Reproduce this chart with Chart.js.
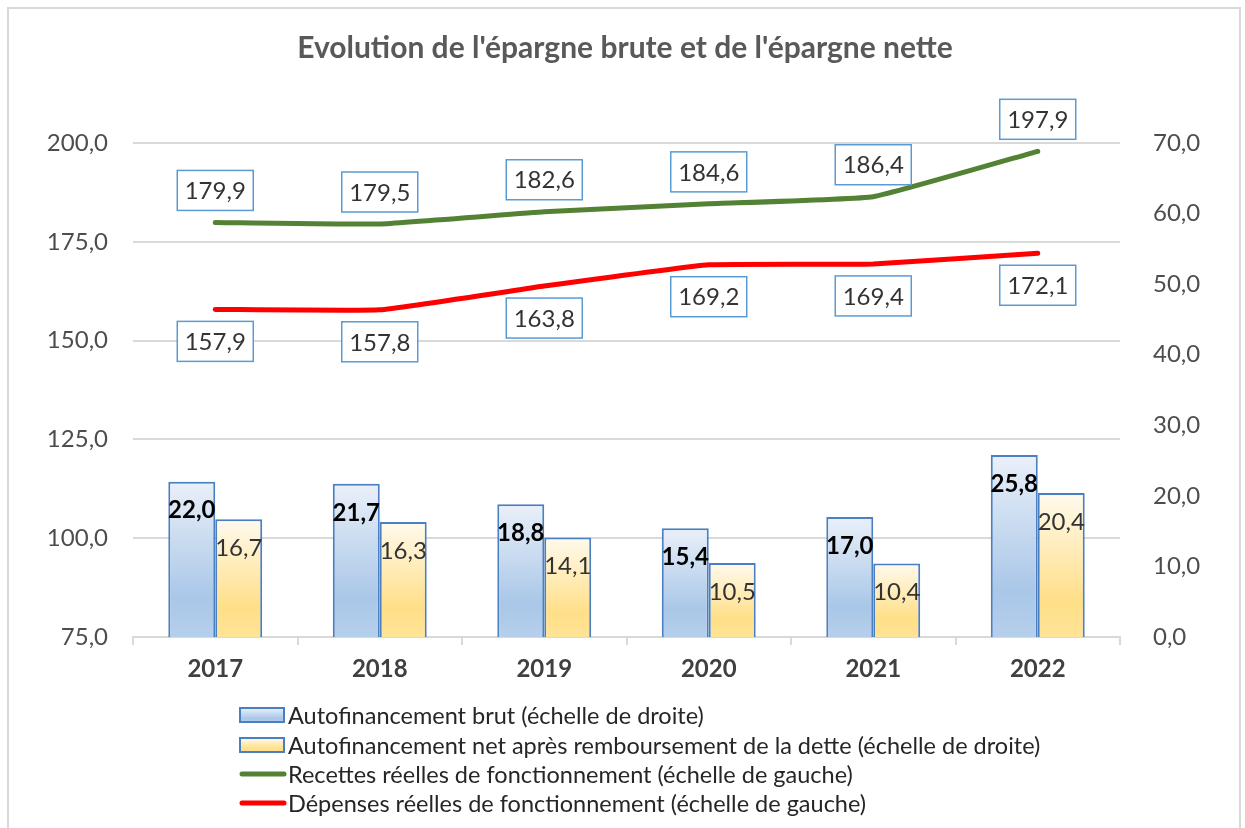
<!DOCTYPE html>
<html lang="fr">
<head>
    <meta charset="UTF-8">
    <title>Evolution de l'épargne</title>
    <style>
        html, body { margin: 0; padding: 0; background: #fff; }
        canvas { display: block; }
    </style>
</head>
<body>
    <canvas id="myChart" width="1245" height="828"></canvas>

    <script src="https://cdn.jsdelivr.net/npm/chart.js"></script>
    <script>
        // donnees
        let annees = ['2017', '2018', '2019', '2020', '2021', '2022'];
        let autofBrut = [22.0, 21.7, 18.8, 15.4, 17.0, 25.8];
        let autofNet = [16.7, 16.3, 14.1, 10.5, 10.4, 20.4];
        let recettes = [179.9, 179.5, 182.6, 184.6, 186.4, 197.9];
        let depenses = [157.9, 157.8, 163.8, 169.2, 169.4, 172.1];

        let gaucheMin = 75, gaucheMax = 200, gauchePas = 25;
        let droiteMin = 0, droiteMax = 70, droitePas = 10;

        let titre = "Evolution de l'épargne brute et de l'épargne nette";
        let police = 'Lato, "Open Sans", sans-serif';

        function fmt(v) {
            return v.toFixed(1).replace('.', ',');
        }

        function degrade(stops) {
            return function (c) {
                let chart = c.chart;
                let ca = chart.chartArea;
                if (!ca || c.type !== 'data') return stops[1][1];
                let top = chart.scales.y2.getPixelForValue(c.raw);
                let g = chart.ctx.createLinearGradient(0, top, 0, ca.bottom);
                stops.forEach(s => g.addColorStop(s[0], s[1]));
                return g;
            };
        }

        let bleuStops = [[0, '#eaf0f9'], [0.75, '#a9c7e8'], [1, '#b6cfeb']];
        let jauneStops = [[0, '#fffaee'], [0.75, '#ffdf88'], [1, '#ffe497']];

        // cadre + titre + etiquettes + legende
        let decor = {
            id: 'decor',
            beforeDraw(chart) {
                let ctx = chart.ctx;
                ctx.save();
                ctx.fillStyle = '#fff';
                ctx.fillRect(0, 0, chart.width, chart.height);
                ctx.strokeStyle = '#d9d9d9';
                ctx.lineWidth = 2;
                ctx.strokeRect(8, 8, 1232, 840);
                ctx.fillStyle = '#595959';
                ctx.font = 'bold 30px ' + police;
                ctx.textAlign = 'center';
                ctx.textBaseline = 'middle';
                ctx.fillText(titre, 625, 48);
                ctx.restore();
            },
            afterDatasetsDraw(chart) {
                let ctx = chart.ctx;
                ctx.save();
                ctx.textAlign = 'center';
                ctx.textBaseline = 'middle';

                // barres
                chart.getDatasetMeta(0).data.forEach((bar, i) => {
                    ctx.font = 'bold 24px ' + police;
                    ctx.fillStyle = '#000';
                    ctx.fillText(fmt(autofBrut[i]), bar.x, bar.y + 29);
                });
                chart.getDatasetMeta(1).data.forEach((bar, i) => {
                    ctx.font = '24px ' + police;
                    ctx.fillStyle = '#333';
                    ctx.fillText(fmt(autofNet[i]), bar.x, bar.y + 29);
                });

                // boites des courbes
                function boite(x, y, txt) {
                    ctx.fillStyle = '#fff';
                    ctx.fillRect(x - 38, y - 20, 76, 40);
                    ctx.strokeStyle = '#5b9bd5';
                    ctx.lineWidth = 1.5;
                    ctx.strokeRect(x - 38, y - 20, 76, 40);
                    ctx.font = '24px ' + police;
                    ctx.fillStyle = '#333';
                    ctx.fillText(txt, x, y + 1);
                }
                chart.getDatasetMeta(2).data.forEach((pt, i) => {
                    boite(pt.x, pt.y - 32, fmt(recettes[i]));
                });
                chart.getDatasetMeta(3).data.forEach((pt, i) => {
                    boite(pt.x, pt.y + 32, fmt(depenses[i]));
                });
                ctx.restore();
            },
            afterDraw(chart) {
                let ctx = chart.ctx;
                ctx.save();
                let x = 240;
                let ys = [715, 745, 774, 803];
                chart.data.datasets.forEach((ds, i) => {
                    let y = ys[i];
                    if (ds.type === 'bar') {
                        let stops = i === 0 ? bleuStops : jauneStops;
                        let g = ctx.createLinearGradient(0, y - 7, 0, y + 7);
                        stops.forEach(s => g.addColorStop(s[0], s[1]));
                        ctx.fillStyle = g;
                        ctx.fillRect(x, y - 7, 44, 14);
                        ctx.strokeStyle = '#4a7fc1';
                        ctx.lineWidth = 2;
                        ctx.strokeRect(x, y - 7, 44, 14);
                    } else {
                        ctx.strokeStyle = ds.borderColor;
                        ctx.lineWidth = 5;
                        ctx.lineCap = 'round';
                        ctx.beginPath();
                        ctx.moveTo(x + 2, y);
                        ctx.lineTo(x + 44, y);
                        ctx.stroke();
                    }
                    ctx.font = '23.5px ' + police;
                    ctx.fillStyle = '#262626';
                    ctx.textAlign = 'left';
                    ctx.textBaseline = 'middle';
                    ctx.fillText(ds.label, x + 48, y + 1);
                });
                ctx.restore();
            }
        };

        let ctx = document.getElementById('myChart');
        let myChart = new Chart(ctx, {
            data: {
                labels: annees,
                datasets: [{
                    type: 'bar',
                    label: 'Autofinancement brut (échelle de droite)',
                    data: autofBrut,
                    yAxisID: 'y2',
                    backgroundColor: degrade(bleuStops),
                    borderColor: '#4a7fc1',
                    borderWidth: 2,
                    order: 2
                }, {
                    type: 'bar',
                    label: 'Autofinancement net après remboursement de la dette (échelle de droite)',
                    data: autofNet,
                    yAxisID: 'y2',
                    backgroundColor: degrade(jauneStops),
                    borderColor: '#4a7fc1',
                    borderWidth: 2,
                    order: 2
                }, {
                    type: 'line',
                    label: 'Recettes réelles de fonctionnement (échelle de gauche)',
                    data: recettes,
                    yAxisID: 'y',
                    borderColor: '#548235',
                    borderWidth: 5,
                    pointRadius: 0,
                    tension: 0.1,
                    borderCapStyle: 'round',
                    fill: false,
                    order: 1
                }, {
                    type: 'line',
                    label: 'Dépenses réelles de fonctionnement (échelle de gauche)',
                    data: depenses,
                    yAxisID: 'y',
                    borderColor: '#ff0000',
                    borderWidth: 5,
                    pointRadius: 0,
                    tension: 0.1,
                    borderCapStyle: 'round',
                    fill: false,
                    order: 1
                }]
            },
            options: {
                responsive: false,
                animation: false,
                layout: {
                    padding: { top: 143, left: 0, right: 0, bottom: 141 }
                },
                datasets: {
                    bar: { categoryPercentage: 0.571, barPercentage: 1 }
                },
                plugins: {
                    legend: { display: false },
                    title: { display: false },
                    tooltip: { enabled: false }
                },
                scales: {
                    x: {
                        offset: true,
                        grid: {
                            offset: true,
                            drawOnChartArea: false,
                            tickLength: 8,
                            color: '#d9d9d9',
                            lineWidth: 2
                        },
                        border: { color: '#d9d9d9', width: 2 },
                        ticks: {
                            color: '#404040',
                            font: { family: police, size: 24, weight: 'bold' },
                            padding: 10
                        },
                        afterFit(scale) { scale.height = 50; }
                    },
                    y: {
                        position: 'left',
                        min: gaucheMin,
                        max: gaucheMax,
                        ticks: {
                            stepSize: gauchePas,
                            callback: v => fmt(v),
                            color: '#4d4d4d',
                            font: { family: police, size: 24 },
                            padding: 25
                        },
                        grid: { color: '#d9d9d9', lineWidth: 2, drawTicks: false },
                        border: { display: false },
                        afterFit(scale) { scale.width = 133; }
                    },
                    y2: {
                        position: 'right',
                        min: droiteMin,
                        max: droiteMax,
                        ticks: {
                            stepSize: droitePas,
                            callback: v => fmt(v),
                            color: '#4d4d4d',
                            font: { family: police, size: 24 },
                            padding: 33
                        },
                        grid: { display: false, drawTicks: false },
                        border: { display: false },
                        afterFit(scale) { scale.width = 125; }
                    }
                }
            },
            plugins: [decor]
        });
    </script>
</body>
</html>
